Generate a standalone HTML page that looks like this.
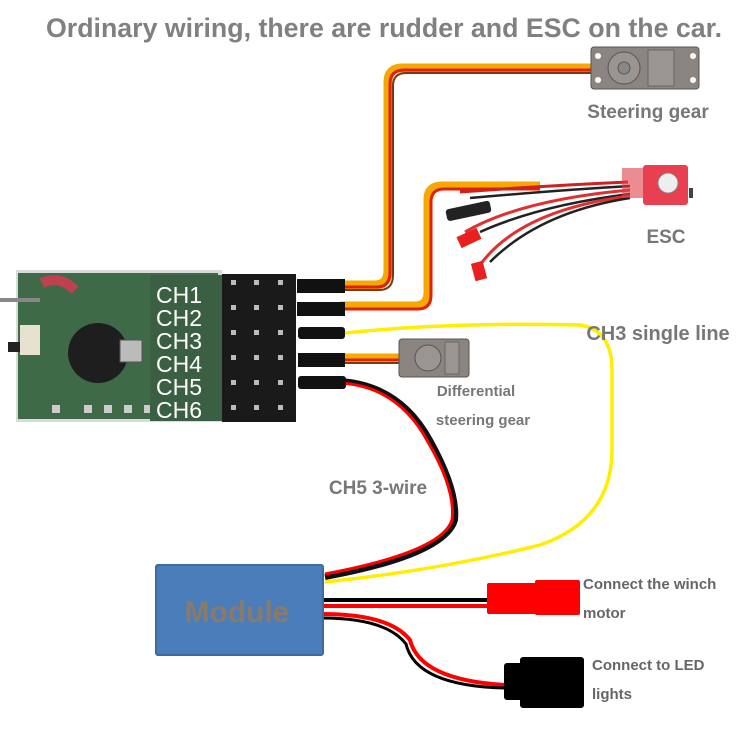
<!DOCTYPE html>
<html><head><meta charset="utf-8"><style>
html,body{margin:0;padding:0;background:#fff;}
svg{display:block;font-family:"Liberation Sans",sans-serif;}
</style></head><body>
<svg width="750" height="750" viewBox="0 0 750 750" xmlns="http://www.w3.org/2000/svg">
<text x="384" y="37" text-anchor="middle" font-size="26.5" font-weight="bold" fill="#808080" textLength="676" lengthAdjust="spacingAndGlyphs">Ordinary wiring, there are rudder and ESC on the car.</text>

<g fill="none" stroke-linejoin="round">
<path d="M340,285 H375 Q388,285 388,270 V82 Q388,68 402,68 H592" stroke="#f5a800" stroke-width="9"/>
<path d="M340,287 H377 Q390,287 390,272 V84 Q390,70 404,70 H592" stroke="#e02000" stroke-width="3"/>
<path d="M340,290 H379 Q393,290 393,275 V86 Q393,73 406,73 H592" stroke="#7a3a10" stroke-width="2"/>
<path d="M340,306 H415 Q428,306 428,292 V199 Q428,186 442,186 H540" stroke="#f5a800" stroke-width="9"/>
<path d="M340,309 H418 Q431,309 431,295 V202 Q431,189 444,189 H540" stroke="#e02000" stroke-width="3"/>
<path d="M460,192 Q540,186 628,182" stroke="#d02020" stroke-width="3"/>
<path d="M470,198 Q560,190 630,186" stroke="#222" stroke-width="2.5"/>
<path d="M465,232 Q520,200 630,190" stroke="#e03030" stroke-width="3"/>
<path d="M480,232 Q540,205 630,194" stroke="#222" stroke-width="2.5"/>
<path d="M480,265 Q520,210 630,196" stroke="#e03030" stroke-width="3"/>
<path d="M490,262 Q540,212 630,198" stroke="#222" stroke-width="2.5"/>
<path d="M345,333 Q450,322 580,325 Q612,330 612,370 V450 Q612,520 540,545 Q440,570 325,582" stroke="#ffee00" stroke-width="3.5"/>
<path d="M340,356 H402" stroke="#f5a800" stroke-width="5"/>
<path d="M340,360 H402" stroke="#e02000" stroke-width="3"/>
<path d="M340,363 H402" stroke="#7a3a10" stroke-width="2"/>
<path d="M340,381 Q400,385 430,440 Q458,490 455,520 Q445,555 325,577" stroke="#111" stroke-width="6"/>
<path d="M340,383 Q398,386 428,442 Q456,490 452,520 Q442,552 325,574" stroke="#f00" stroke-width="3"/>
<path d="M322,600 H490" stroke="#000" stroke-width="4"/>
<path d="M322,606 H490" stroke="#f00" stroke-width="4"/>
<path d="M322,614 Q390,614 410,640 Q420,680 505,685" stroke="#f00" stroke-width="4"/>
<path d="M322,618 Q386,618 406,644 Q416,686 505,688" stroke="#000" stroke-width="3"/>
</g>

<g>
<rect x="591" y="47" width="108" height="42" rx="3" fill="#8a8580" stroke="#5a5550"/>
<circle cx="624" cy="68" r="16" fill="#9a9590" stroke="#555"/>
<circle cx="624" cy="68" r="6" fill="#888" stroke="#555"/>
<rect x="648" y="50" width="26" height="36" fill="#9a9590" stroke="#666"/>
<circle cx="598" cy="56" r="3" fill="#fff"/><circle cx="598" cy="80" r="3" fill="#fff"/>
<circle cx="693" cy="56" r="3" fill="#fff"/><circle cx="693" cy="80" r="3" fill="#fff"/>
</g>
<text x="648" y="118" text-anchor="middle" font-size="19" font-weight="bold" fill="#777">Steering gear</text>

<rect x="622" y="168" width="22" height="30" fill="#e0404a" opacity="0.6"/>
<rect x="643" y="165" width="45" height="40" rx="3" fill="#e84050"/>
<circle cx="668" cy="183" r="10" fill="#eee" stroke="#888"/>
<rect x="689" y="188" width="4" height="10" fill="#444"/>
<text x="666" y="243" text-anchor="middle" font-size="19" font-weight="bold" fill="#777">ESC</text>
<rect x="446" y="205" width="45" height="12" rx="3" fill="#222" transform="rotate(-12 468 211)"/>
<rect x="458" y="232" width="22" height="12" fill="#e82020" transform="rotate(-25 469 238)"/>
<rect x="473" y="262" width="12" height="18" fill="#e82020" transform="rotate(-15 479 271)"/>

<rect x="16" y="270" width="206" height="152" fill="#d8dcd8"/>
<rect x="18" y="273" width="200" height="146" fill="#3f6a48"/>
<path d="M0,300 H40" stroke="#888" stroke-width="4"/>
<path d="M42,283 Q60,275 75,290" stroke="#c04050" stroke-width="10" fill="none"/>
<rect x="20" y="325" width="20" height="30" fill="#e8e0d0"/>
<rect x="8" y="342" width="12" height="10" fill="#222"/>
<circle cx="98" cy="353" r="30" fill="#1e1e1e"/>
<rect x="120" y="340" width="22" height="22" fill="#bbb" stroke="#555"/>
<g fill="#ccc"><rect x="52" y="405" width="8" height="8"/><rect x="84" y="405" width="8" height="8"/><rect x="104" y="405" width="8" height="8"/><rect x="124" y="405" width="8" height="8"/><rect x="144" y="405" width="8" height="8"/></g>
<rect x="150" y="275" width="72" height="146" fill="#3a5f42"/>
<rect x="222" y="274" width="74" height="148" fill="#1a1a1a"/>
<g fill="#bbb">
<rect x="231" y="280" width="5" height="5"/><rect x="254" y="280" width="5" height="5"/><rect x="278" y="280" width="5" height="5"/>
<rect x="231" y="305" width="5" height="5"/><rect x="254" y="305" width="5" height="5"/><rect x="278" y="305" width="5" height="5"/>
<rect x="231" y="330" width="5" height="5"/><rect x="254" y="330" width="5" height="5"/><rect x="278" y="330" width="5" height="5"/>
<rect x="231" y="355" width="5" height="5"/><rect x="254" y="355" width="5" height="5"/><rect x="278" y="355" width="5" height="5"/>
<rect x="231" y="380" width="5" height="5"/><rect x="254" y="380" width="5" height="5"/><rect x="278" y="380" width="5" height="5"/>
<rect x="231" y="405" width="5" height="5"/><rect x="254" y="405" width="5" height="5"/><rect x="278" y="405" width="5" height="5"/>
</g>
<g font-size="23" fill="#fff">
<text x="156" y="303">CH1</text><text x="156" y="326">CH2</text><text x="156" y="349">CH3</text>
<text x="156" y="372">CH4</text><text x="156" y="395">CH5</text><text x="156" y="418">CH6</text>
</g>

<g fill="#111">
<rect x="297" y="279" width="48" height="14"/>
<rect x="297" y="302" width="48" height="14"/>
<rect x="298" y="327" width="47" height="12" rx="3"/>
<rect x="298" y="353" width="47" height="14"/>
<rect x="298" y="376" width="48" height="13" rx="3"/>
</g>

<rect x="399" y="339" width="70" height="38" rx="3" fill="#8a8580" stroke="#5a5550"/>
<circle cx="428" cy="358" r="13" fill="#9a9590" stroke="#555"/>
<rect x="445" y="342" width="14" height="32" fill="#9a9590" stroke="#666"/>
<text x="476" y="396" text-anchor="middle" font-size="15" font-weight="bold" fill="#777">Differential</text>
<text x="483" y="425" text-anchor="middle" font-size="15" font-weight="bold" fill="#777">steering gear</text>
<text x="378" y="494" text-anchor="middle" font-size="19" font-weight="bold" fill="#777">CH5 3-wire</text>
<text x="658" y="340" text-anchor="middle" font-size="20" font-weight="bold" fill="#777">CH3 single line</text>

<rect x="156" y="565" width="167" height="90" rx="2" fill="#4b7dbb" stroke="#3d6a9f" stroke-width="2"/>
<text x="237" y="622" text-anchor="middle" font-size="30" font-weight="bold" fill="#8a7a6a">Module</text>

<rect x="487" y="583" width="50" height="31" rx="2" fill="#f00"/>
<rect x="535" y="580" width="45" height="35" rx="2" fill="#f00"/>
<text x="583" y="589" font-size="15" font-weight="bold" fill="#666">Connect the winch</text>
<text x="583" y="618" font-size="15" font-weight="bold" fill="#666">motor</text>

<rect x="504" y="663" width="30" height="37" rx="3" fill="#000"/>
<rect x="520" y="657" width="64" height="51" rx="3" fill="#000"/>
<text x="592" y="670" font-size="15" font-weight="bold" fill="#666">Connect to LED</text>
<text x="592" y="699" font-size="15" font-weight="bold" fill="#666">lights</text>
</svg>
</body></html>
